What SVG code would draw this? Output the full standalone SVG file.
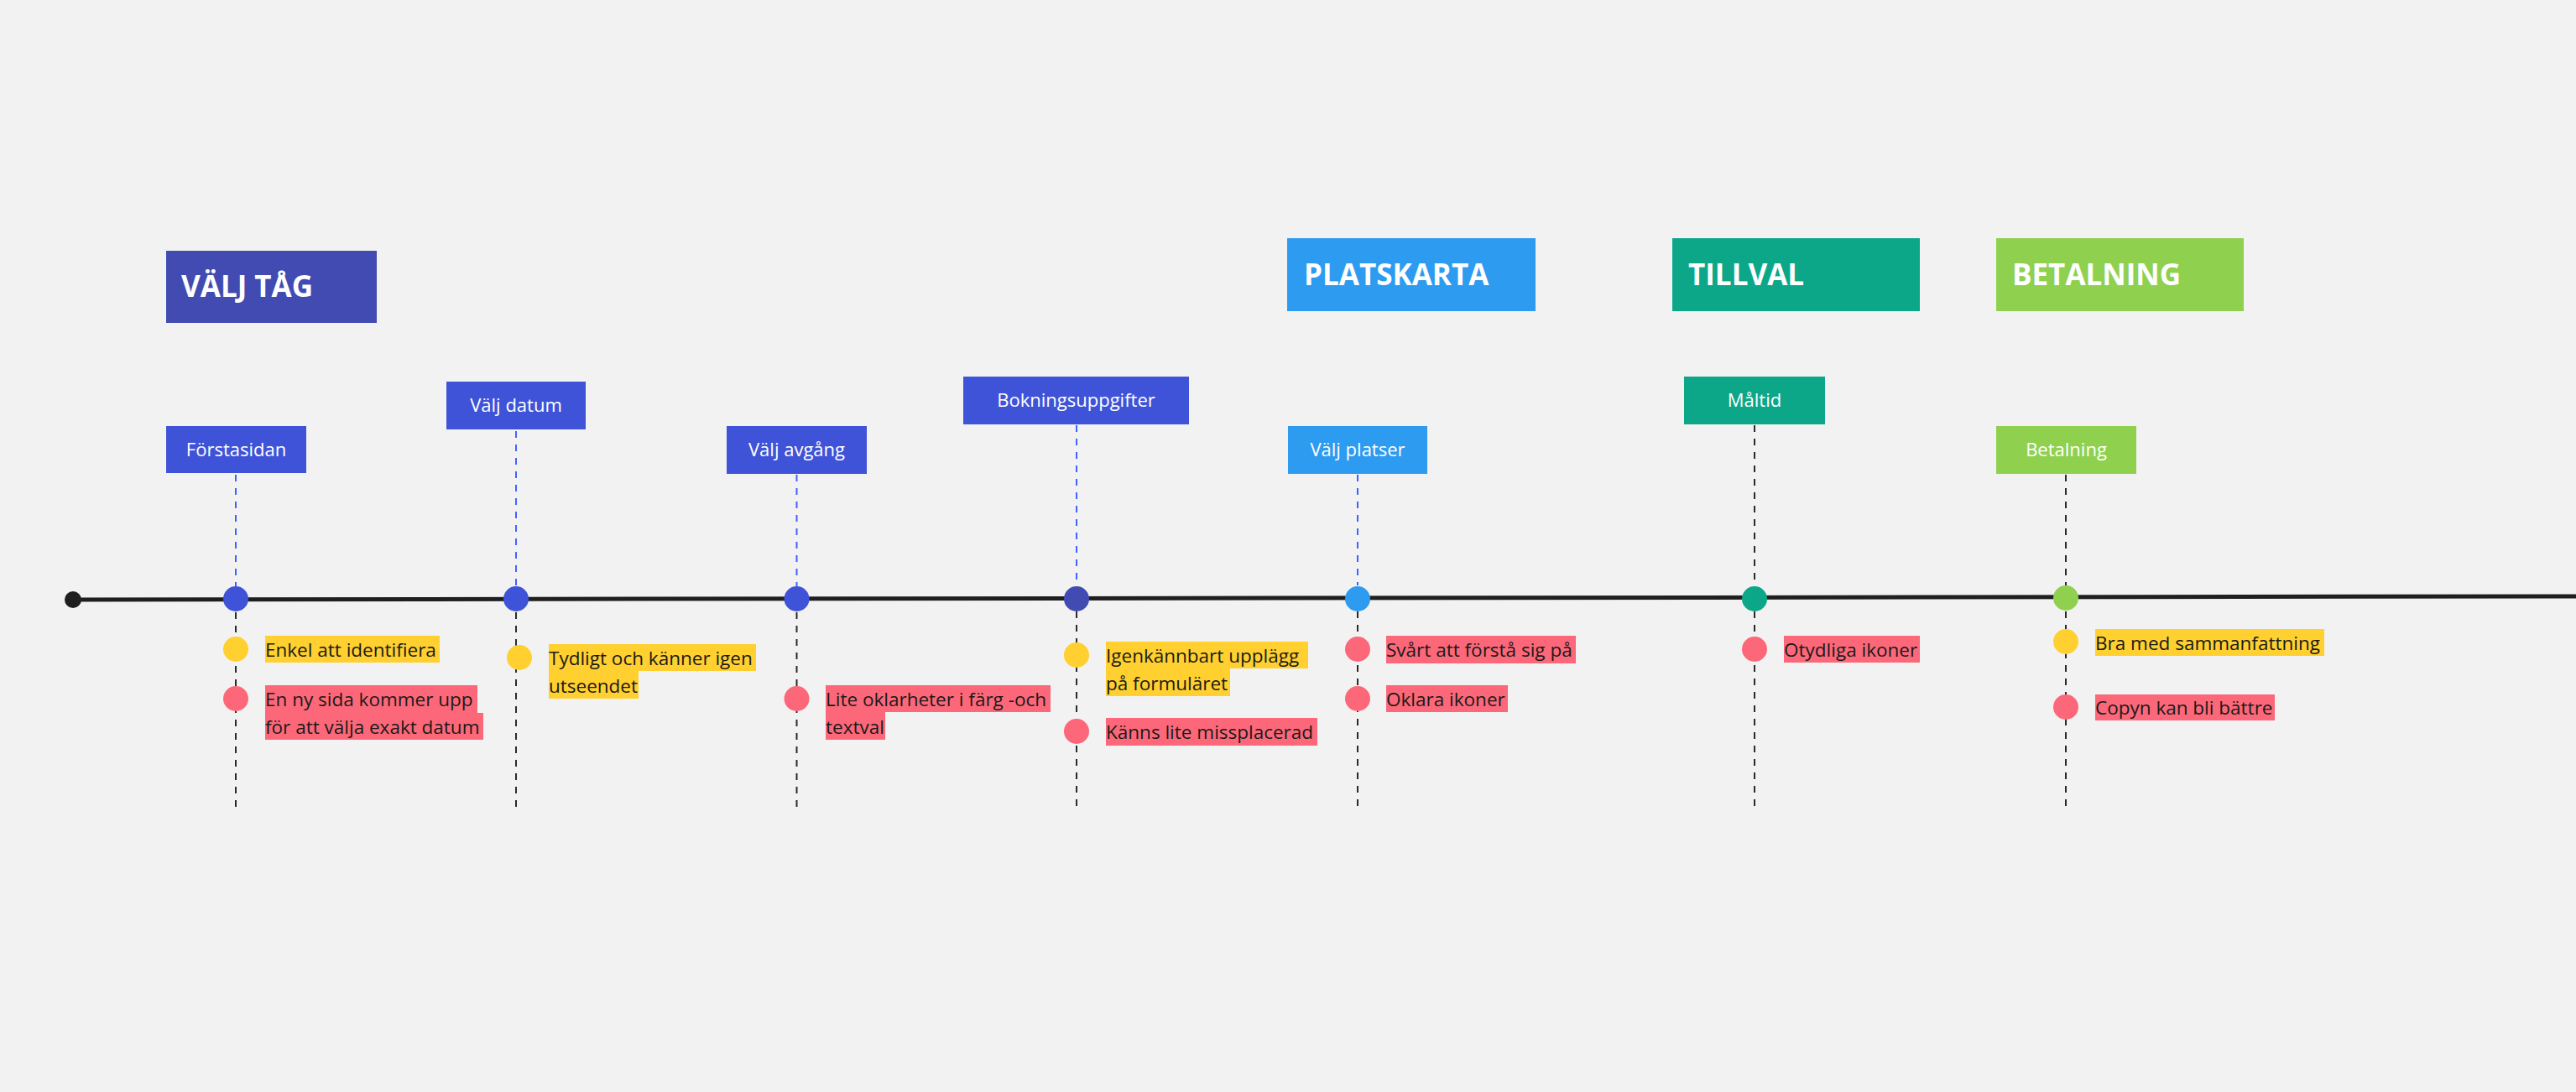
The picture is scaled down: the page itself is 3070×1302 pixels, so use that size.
<svg xmlns="http://www.w3.org/2000/svg" width="3070" height="1302" viewBox="0 0 3070 1302">
<style>
.bg{fill:#f2f2f2}
.hdr{font-family:"Open Sans","Liberation Sans",sans-serif;font-weight:700;font-size:35px;fill:#ffffff}
.lbl{font-family:"Open Sans","Liberation Sans",sans-serif;font-size:22px;fill:#ffffff}
.note{font-family:"Open Sans","Liberation Sans",sans-serif;font-size:22.5px;fill:#1a1a1a}
.y{fill:#ffd02f}
.r{fill:#fc6879}
.dk{fill:#414bb2}
.bl{fill:#3f53d8}
.lb{fill:#2d9bf0}
.gn{fill:#0ca789}
.lg{fill:#8fd14f}
.dashB{stroke:#4262ff;stroke-width:2;stroke-dasharray:8 8;fill:none}
.dashK{stroke:#2b2b2b;stroke-width:2;stroke-dasharray:8 8;fill:none}
</style>
<rect class="bg" x="0" y="0" width="3070" height="1302"/>

<g id="connectors">
  <line x1="87" y1="715" x2="3070" y2="711" stroke="#1f1f1f" stroke-width="5"/>
  <line class="dashB" x1="281" y1="566" x2="281" y2="699"/>
  <line class="dashK" x1="281" y1="730" x2="281" y2="966"/>
  <line class="dashB" x1="615" y1="514" x2="615" y2="699"/>
  <line class="dashK" x1="615" y1="730" x2="615" y2="966"/>
  <line class="dashB" x1="949.5" y1="566" x2="949.5" y2="699"/>
  <line class="dashK" x1="949.5" y1="730" x2="949.5" y2="966"/>
  <line class="dashB" x1="1283" y1="507" x2="1283" y2="699"/>
  <line class="dashK" x1="1283" y1="729" x2="1283" y2="966"/>
  <line class="dashB" x1="1618" y1="566" x2="1618" y2="698"/>
  <line class="dashK" x1="1618" y1="729" x2="1618" y2="966"/>
  <line class="dashK" x1="2091" y1="507" x2="2091" y2="698"/>
  <line class="dashK" x1="2091" y1="729" x2="2091" y2="963"/>
  <line class="dashK" x1="2462" y1="566" x2="2462" y2="698"/>
  <line class="dashK" x1="2462" y1="729" x2="2462" y2="966"/>
  <circle cx="87" cy="715" r="10" fill="#1f1f1f"/>
</g>

<g id="hdr-valj-tag"><rect class="dk" x="198" y="299" width="251" height="86"/><text class="hdr" x="216" y="354">VÄLJ TÅG</text></g>
<g id="hdr-platskarta"><rect class="lb" x="1534" y="284" width="296" height="87"/><text class="hdr" x="1554" y="340">PLATSKARTA</text></g>
<g id="hdr-tillval"><rect class="gn" x="1993" y="284" width="295" height="87"/><text class="hdr" x="2012" y="340">TILLVAL</text></g>
<g id="hdr-betalning"><rect class="lg" x="2379" y="284" width="295" height="87"/><text class="hdr" x="2398" y="340">BETALNING</text></g>

<g id="step-forstasidan">
  <rect class="bl" x="198" y="508" width="167" height="56"/>
  <text class="lbl" x="281.5" y="544" text-anchor="middle">Förstasidan</text>
  <circle class="bl" cx="281" cy="714" r="15"/>
</g>
<g id="step-valj-datum">
  <rect class="bl" x="532" y="455" width="166" height="57"/>
  <text class="lbl" x="615" y="491" text-anchor="middle">Välj datum</text>
  <circle class="bl" cx="615" cy="714" r="15"/>
</g>
<g id="step-valj-avgang">
  <rect class="bl" x="866" y="508" width="167" height="57"/>
  <text class="lbl" x="949.5" y="544" text-anchor="middle">Välj avgång</text>
  <circle class="bl" cx="949.5" cy="714" r="15"/>
</g>
<g id="step-bokningsuppgifter">
  <rect class="bl" x="1148" y="449" width="269" height="57"/>
  <text class="lbl" x="1282.5" y="485" text-anchor="middle">Bokningsuppgifter</text>
  <circle class="dk" cx="1283" cy="714" r="15"/>
</g>
<g id="step-valj-platser">
  <rect class="lb" x="1535" y="508" width="166" height="57"/>
  <text class="lbl" x="1618" y="544" text-anchor="middle">Välj platser</text>
  <circle class="lb" cx="1618" cy="714" r="15"/>
</g>
<g id="step-maltid">
  <rect class="gn" x="2007" y="449" width="168" height="57"/>
  <text class="lbl" x="2091" y="485" text-anchor="middle">Måltid</text>
  <circle class="gn" cx="2091" cy="714" r="15"/>
</g>
<g id="step-betalning">
  <rect class="lg" x="2379" y="508" width="167" height="57"/>
  <text class="lbl" x="2462.5" y="544" text-anchor="middle">Betalning</text>
  <circle class="lg" cx="2462" cy="713" r="15"/>
</g>

<g id="note-enkel">
  <circle class="y" cx="281" cy="774" r="15"/>
  <rect class="y" x="316" y="758" width="208" height="32"/>
  <text class="note" x="316" y="783">Enkel att identifiera</text>
</g>
<g id="note-en-ny-sida">
  <circle class="r" cx="281" cy="833" r="15"/>
  <rect class="r" x="316" y="817" width="253" height="33"/>
  <rect class="r" x="316" y="850" width="260" height="32"/>
  <text class="note" x="316" y="842">En ny sida kommer upp</text>
  <text class="note" x="316" y="875">för att välja exakt datum</text>
</g>
<g id="note-tydligt">
  <circle class="y" cx="619" cy="784" r="15"/>
  <rect class="y" x="654" y="768" width="247" height="32"/>
  <rect class="y" x="654" y="800" width="107" height="33"/>
  <text class="note" x="654" y="793">Tydligt och känner igen</text>
  <text class="note" x="654" y="826">utseendet</text>
</g>
<g id="note-lite-oklarheter">
  <circle class="r" cx="949.5" cy="833" r="15"/>
  <rect class="r" x="984" y="817" width="268" height="32"/>
  <rect class="r" x="984" y="849" width="71" height="33"/>
  <text class="note" x="984" y="842">Lite oklarheter i färg -och</text>
  <text class="note" x="984" y="875">textval</text>
</g>
<g id="note-igenkannbart">
  <circle class="y" cx="1283" cy="781" r="15"/>
  <rect class="y" x="1318" y="765" width="241" height="32"/>
  <rect class="y" x="1318" y="797" width="148" height="33"/>
  <text class="note" x="1318" y="790">Igenkännbart upplägg</text>
  <text class="note" x="1318" y="823">på formuläret</text>
</g>
<g id="note-kanns">
  <circle class="r" cx="1283" cy="872" r="15"/>
  <rect class="r" x="1318" y="856" width="252" height="33"/>
  <text class="note" x="1318" y="881">Känns lite missplacerad</text>
</g>
<g id="note-svart">
  <circle class="r" cx="1618" cy="774" r="15"/>
  <rect class="r" x="1652" y="758" width="226" height="33"/>
  <text class="note" x="1652" y="783">Svårt att förstå sig på</text>
</g>
<g id="note-oklara">
  <circle class="r" cx="1618" cy="833" r="15"/>
  <rect class="r" x="1652" y="817" width="145" height="32"/>
  <text class="note" x="1652" y="842">Oklara ikoner</text>
</g>
<g id="note-otydliga">
  <circle class="r" cx="2091" cy="774" r="15"/>
  <rect class="r" x="2126" y="758" width="162" height="32"/>
  <text class="note" x="2126" y="783">Otydliga ikoner</text>
</g>
<g id="note-bra-med">
  <circle class="y" cx="2462" cy="765" r="15"/>
  <rect class="y" x="2497" y="750" width="273" height="32"/>
  <text class="note" x="2497" y="775">Bra med sammanfattning</text>
</g>
<g id="note-copyn">
  <circle class="r" cx="2462" cy="843" r="15"/>
  <rect class="r" x="2497" y="828" width="214" height="31"/>
  <text class="note" x="2497" y="852">Copyn kan bli bättre</text>
</g>
</svg>
